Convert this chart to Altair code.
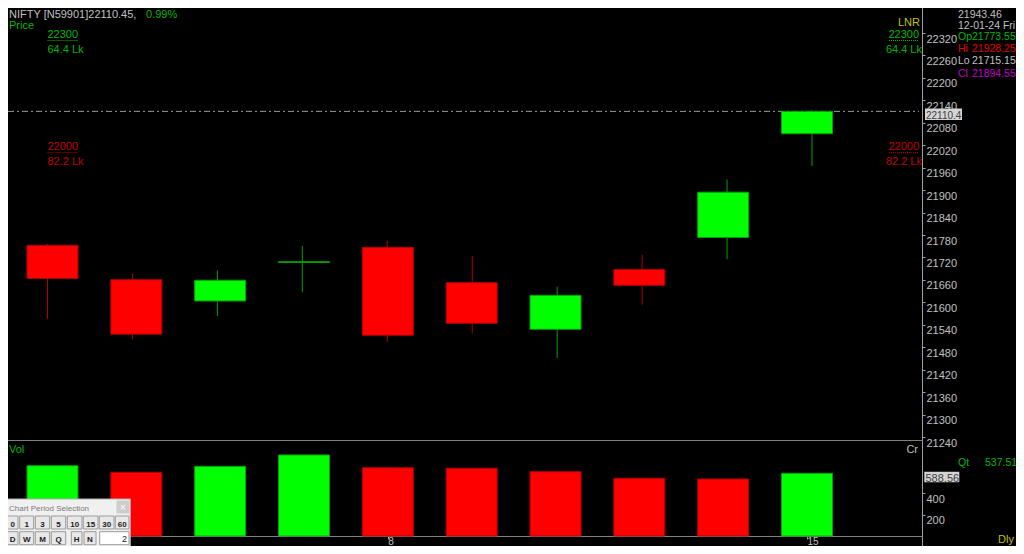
import altair as alt
import pandas as pd

# ---------------- values ----------------
days = ["2", "3", "4", "5", "8", "9", "10", "11", "12", "15"]
opens = [21752.5, 21660.5, 21603.6, 21706.5, 21747.0, 21652.5, 21528.0, 21688.0, 21773.55, 22050.8]
highs = [21756.0, 21676.5, 21685.6, 21750.6, 21765.0, 21724.7, 21641.8, 21726.5, 21928.25, 22114.0]
lows = [21556.0, 21501.0, 21563.5, 21628.4, 21494.0, 21517.0, 21451.0, 21593.7, 21715.15, 21964.4]
closes = [21664.0, 21515.0, 21659.0, 21708.5, 21512.0, 21544.0, 21618.8, 21645.5, 21894.55, 22110.45]
volumes = [660, 598, 654, 761, 641, 636, 604, 542, 535, 588.56]  # Cr
vol_rising = [True, False, True, True, False, False, False, False, False, True]

price_ticks = [21240, 21300, 21360, 21420, 21480, 21540, 21600, 21660, 21720, 21780,
               21840, 21900, 21960, 22020, 22080, 22140, 22200, 22260, 22320]
vol_ticks = [200, 400]
date_tick_index = [4, 9]

last_price = 22110.45
last_price_label = "22110.4"
last_volume = 588.56
last_volume_label = "588.56"

levels = [22300, 22000]
level_qty = ["64.4 Lk", "82.2 Lk"]

symbol_text = "NIFTY [N59901]22110.45,"
change_text = "0.99%"
info_top = ["21943.46", "12-01-24 Fri"]
ohlc_names = ["Op", "Hi", "Lo", "Cl"]
ohlc_values = ["21773.55", "21928.25", "21715.15", "21894.55"]
qty_value = "537.51"
period_row1 = ["0", "1", "3", "5", "10", "15", "30", "60"]
period_row2 = ["D", "W", "M", "Q", "H", "N"]
period_value = "2"

# ---------------- styling / layout ----------------
FONT = "Liberation Sans"
GRAY = "#c0c0c0"
LINE = "#808080"
AXLINE = "#a0a0a0"
GREEN_T = "#00b800"
RED_T = "#c00000"
YELLOW_T = "#c0c000"
MAGENTA_T = "#c000c0"
HI_RED = "#e00000"

W, H = 914, 528
PAD = {"left": 0, "top": 0, "right": 94, "bottom": 10}

PRICE_SCALE = alt.Scale(domain=[21240, 22320], range=[429, 25], nice=False, zero=False)
VOL_SCALE = alt.Scale(domain=[0, 800], range=[528, 442.8], nice=False, zero=False)
X_SCALE = alt.Scale(domain=[0, 9], range=[39.5, 804], nice=False, zero=False)
DIR = ["up", "down"]
FILL = alt.Scale(domain=DIR, range=["#00ff00", "#ff0000"])
EDGE = alt.Scale(domain=DIR, range=["#00a000", "#b00000"])

ONE = pd.DataFrame({"k": [0]})

candles = pd.DataFrame({
    "i": list(range(len(days))),
    "day": days,
    "open": opens, "high": highs, "low": lows, "close": closes,
    "vol": volumes,
})
candles["dir"] = ["up" if c >= o else "down" for o, c in zip(opens, closes)]
candles["vdir"] = ["up" if r else "down" for r in vol_rising]

day_js = "[" + ",".join("'%s'" % d for d in days) + "]"


def X(axis=None):
    return alt.X("i:Q", scale=X_SCALE, axis=axis)


def rule(x0, x1, y0, y1, color, dash=None):
    kw = dict(color=color, strokeWidth=1)
    if dash:
        kw["strokeDash"] = dash
    return alt.Chart(ONE).mark_rule(**kw).encode(
        x=alt.value(x0), x2=alt.value(x1), y=alt.value(y0), y2=alt.value(y1))


def text_layer(rows, size=11, weight="normal", align="left"):
    df = pd.DataFrame(rows, columns=["x", "y", "t", "c"])
    return alt.Chart(df).mark_text(font=FONT, fontSize=size, fontWeight=weight,
                                   align=align, baseline="alphabetic").encode(
        x=alt.X("x:Q", scale=None, axis=None),
        y=alt.Y("y:Q", scale=None, axis=None),
        text=alt.Text("t:N"),
        color=alt.Color("c:N", scale=None, legend=None),
    )


def rect_layer(rows, stroke):
    df = pd.DataFrame(rows, columns=["x0", "x1", "y0", "y1", "f"])
    return alt.Chart(df).mark_rect(stroke=stroke, strokeWidth=1).encode(
        x=alt.X("x0:Q", scale=None, axis=None), x2="x1:Q",
        y=alt.Y("y0:Q", scale=None, axis=None), y2="y1:Q",
        fill=alt.Fill("f:N", scale=None, legend=None),
    )


axis_common = dict(domain=False, grid=False, ticks=True, tickSize=3, tickColor=AXLINE,
                   labelColor=GRAY, labelFont=FONT, title=None, labelOverlap=False)

price_axis = alt.Axis(orient="right", values=price_ticks, format="d", labelBaseline="top",
                      labelPadding=1, labelFlush=False, labelFontSize=11, **axis_common)
vol_axis = alt.Axis(orient="right", values=vol_ticks, format="d", labelBaseline="top",
                    labelPadding=1, labelFlush=False, labelFontSize=11, **axis_common)
x_axis = alt.Axis(orient="bottom", values=date_tick_index, labelExpr=day_js + "[datum.value]",
                  labelAlign="left", labelBaseline="top", labelPadding=-2.5, labelFlush=False,
                  labelFontSize=10, **axis_common)

layers = []

# frame lines
layers.append(rule(914.5, 914.5, 0, 538, AXLINE))
layers.append(rule(0, 914.5, 432.5, 432.5, LINE))
layers.append(rule(0, 914.5, 528.5, 528.5, LINE))

# current price dash-dot line
cur = pd.DataFrame({"p": [last_price], "t": [last_price_label]})
layers.append(alt.Chart(cur).mark_rule(color="#9a9a9a", strokeWidth=1, strokeDash=[6, 3, 2, 3]).encode(
    x=alt.value(0), x2=alt.value(911),
    y=alt.Y("p:Q", scale=PRICE_SCALE, axis=None)))

# wicks (carry the price axis)
layers.append(alt.Chart(candles).mark_rule(strokeWidth=1).encode(
    x=X(),
    y=alt.Y("low:Q", scale=PRICE_SCALE, axis=price_axis),
    y2="high:Q",
    stroke=alt.Stroke("dir:N", scale=EDGE, legend=None)))

# bodies (carry the date axis)
layers.append(alt.Chart(candles).mark_bar(size=51, strokeWidth=1).encode(
    x=X(x_axis),
    y=alt.Y("open:Q", scale=PRICE_SCALE, axis=None),
    y2="close:Q",
    fill=alt.Fill("dir:N", scale=FILL, legend=None),
    stroke=alt.Stroke("dir:N", scale=EDGE, legend=None)))

# volume bars
layers.append(alt.Chart(candles).mark_bar(size=51, strokeWidth=1).encode(
    x=X(),
    y=alt.Y("vol:Q", scale=VOL_SCALE, axis=vol_axis),
    fill=alt.Fill("vdir:N", scale=FILL, legend=None),
    stroke=alt.Stroke("vdir:N", scale=EDGE, legend=None)))

# price level markers (left and right)
lv = pd.DataFrame({"level": levels, "qty": level_qty,
                   "lab": [str(v) for v in levels],
                   "c": [GREEN_T, RED_T]})
for xl, xr, tx, al in [(39.5, 70, 39.5, "left"), (881, 911, 911, "right")]:
    layers.append(alt.Chart(lv).mark_rule(strokeWidth=1, strokeDash=[1, 1]).encode(
        x=alt.value(xl), x2=alt.value(xr),
        y=alt.Y("level:Q", scale=PRICE_SCALE, axis=None),
        stroke=alt.Stroke("c:N", scale=None, legend=None)))
    layers.append(alt.Chart(lv).mark_text(font=FONT, fontSize=11, align=al, baseline="alphabetic", dy=-2.5).encode(
        x=alt.value(tx),
        y=alt.Y("level:Q", scale=PRICE_SCALE, axis=None),
        text="lab:N",
        color=alt.Color("c:N", scale=None, legend=None)))
    layers.append(alt.Chart(lv).mark_text(font=FONT, fontSize=11, align=al, baseline="alphabetic", dy=12.5,
                                          dx=(3 if al == "right" else 0)).encode(
        x=alt.value(tx),
        y=alt.Y("level:Q", scale=PRICE_SCALE, axis=None),
        text="qty:N",
        color=alt.Color("c:N", scale=None, legend=None)))

# last price box
layers.append(alt.Chart(cur).mark_rect(fill="#d4d4d4", yOffset=-3, y2Offset=8.6).encode(
    x=alt.value(917), x2=alt.value(954),
    y=alt.Y("p:Q", scale=PRICE_SCALE, axis=None), y2="p:Q"))
layers.append(alt.Chart(cur).mark_text(font=FONT, fontSize=10, align="left", baseline="top",
                                       color="#404040", dy=0).encode(
    x=alt.value(918), y=alt.Y("p:Q", scale=PRICE_SCALE, axis=None), text="t:N"))

# last volume box
lvd = pd.DataFrame({"v": [last_volume], "t": [last_volume_label]})
layers.append(alt.Chart(lvd).mark_rect(fill="#d4d4d4", yOffset=-1.6, y2Offset=9).encode(
    x=alt.value(916.3), x2=alt.value(951.3),
    y=alt.Y("v:Q", scale=VOL_SCALE, axis=None), y2="v:Q"))
layers.append(alt.Chart(lvd).mark_text(font=FONT, fontSize=11, align="left", baseline="top",
                                       color="#404040", dy=0).encode(
    x=alt.value(917.5), y=alt.Y("v:Q", scale=VOL_SCALE, axis=None), text="t:N"))

# header / texts on the left
layers.append(text_layer([
    (1, 10, symbol_text, GRAY),
    (138, 10, change_text, GREEN_T),
    (1, 20.5, "Price", GREEN_T),
    (1, 444.7, "Vol", GREEN_T),
]))

# info panel on the right (slightly smaller so it fits beside the axis labels)
IX, IV = 950, 964
ohlc_colors = [GREEN_T, HI_RED, GRAY, MAGENTA_T]
ohlc_y = [32, 44.2, 56.4, 68.7]
rows = [
    (IX, 10, info_top[0], GRAY),
    (IX, 21, info_top[1], GRAY),
    (IX, 458, "Qt", GREEN_T),
    (977, 458, qty_value, GREEN_T),
]
for n, v, c, y in zip(ohlc_names, ohlc_values, ohlc_colors, ohlc_y):
    rows.append((IX, y, n, c))
    rows.append((IV, y, v, c))
layers.append(text_layer(rows, size=10.5))
layers.append(text_layer([
    (912, 18, "LNR", YELLOW_T),
    (910, 444.7, "Cr", GRAY),
    (1006, 535, "Dly", YELLOW_T),
], align="right"))

# "Chart Period Selection" widget
SX, SY = -5, -15
panel = [(3.3 + SX, 127.3 + SX, 506 + SY, 556 + SY, "#f0f0f0")]
layers.append(rect_layer(panel, "#b0b0b0"))
layers.append(rect_layer([(114 + SX, 126 + SX, 508 + SY, 520 + SY, "#cdcdcd")], "#cdcdcd"))
layers.append(text_layer([(6 + SX, 517.5 + SY, "Chart Period Selection", "#7a7a7a")], size=8))
layers.append(text_layer([(120 + SX, 517.5 + SY, "×", "#ffffff")], size=10, align="center"))

row1_x = [(4.3, 15), (16.7, 30.7), (32.3, 46.7), (48.3, 62.7), (64.3, 79), (80.3, 95), (96.3, 111), (112.3, 126)]
row2_x = [(4.3, 15), (16.7, 30.7), (32.3, 46.7), (48.3, 62.7), (68.3, 79), (81, 93)]
btn_rects, btn_text = [], []
for lab, (a, b) in zip(period_row1, row1_x):
    btn_rects.append((a + SX, b + SX, 523 + SY, 536 + SY, "#e8e8e8"))
    btn_text.append(((a + b) / 2 + SX, 533.5 + SY, lab, "#202020"))
for lab, (a, b) in zip(period_row2, row2_x):
    btn_rects.append((a + SX, b + SX, 538.7 + SY, 551.7 + SY, "#e8e8e8"))
    btn_text.append(((a + b) / 2 + SX, 549 + SY, lab, "#202020"))
layers.append(rect_layer(btn_rects, "#9a9a9a"))
layers.append(rect_layer([(96.7 + SX, 126 + SX, 538.7 + SY, 551.7 + SY, "#ffffff")], "#9a9a9a"))
layers.append(text_layer(btn_text, size=8, weight="bold", align="center"))
layers.append(text_layer([(124 + SX, 548.5 + SY, period_value, "#202020")], size=9, align="right"))

chart = alt.layer(*layers).properties(
    width=W, height=H, padding=PAD,
    autosize=alt.AutoSizeParams(type="none"),
    background="#000000",
).resolve_scale(
    x="independent", y="independent", fill="independent", stroke="independent", color="independent"
).configure_view(stroke=None, fill="#000000")

chart.save("out.html", embed_options={"renderer": "svg", "actions": False})
